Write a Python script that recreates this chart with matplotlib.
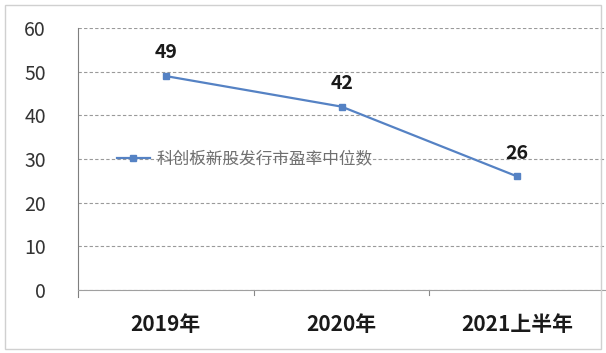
import matplotlib
matplotlib.use("Agg")
import matplotlib.pyplot as plt
from matplotlib.patches import Rectangle

plt.rcParams['font.family'] = ['Noto Sans CJK SC', 'DejaVu Sans']

# --- Data ---
categories = ["2019年", "2020年", "2021上半年"]
pe_median = [49, 42, 26]
series_name = "科创板新股发行市盈率中位数"
y_ticks = [0, 10, 20, 30, 40, 50, 60]

LINE_COLOR = "#5582c4"

fig = plt.figure(figsize=(6.06, 3.53), dpi=100)
ax = fig.add_axes([0.1287, 0.1785, 0.87, 0.742])

x = list(range(len(categories)))
ax.plot(x, pe_median, color=LINE_COLOR, lw=1.6, marker="s", ms=4.5,
        label=series_name, zorder=3)

for xi, v in zip(x, pe_median):
    ax.annotate(str(v), (xi, v), xytext=(0, 10), textcoords="offset points",
                ha="center", va="bottom", fontsize=14, fontweight="bold",
                color="#1a1a1a")

ax.set_xlim(-0.5, 2.5)
ax.set_ylim(0, 60)
ax.set_yticks(y_ticks)
ax.set_yticklabels([str(t) for t in y_ticks], fontsize=14, color="#333333")
ax.set_xticks(x)
ax.set_xticklabels(categories, fontsize=15, fontweight="bold", color="#1a1a1a")
ax.tick_params(axis="y", length=0, pad=23)
ax.tick_params(axis="x", length=0, pad=17)

# category boundary ticks on the x axis
for b in [0.5, 1.5]:
    ax.plot([b, b], [0, -1.2], color="#888888", lw=0.8, clip_on=False)

ax.yaxis.grid(True, ls=(0, (3, 2)), color="#9a9a9a", lw=0.8)
ax.set_axisbelow(True)
for side in ["top", "right"]:
    ax.spines[side].set_visible(False)
ax.spines["left"].set_color("#7f7f7f")
ax.spines["bottom"].set_color("#a0a0a0")
ax.spines["left"].set_bounds(-1.5, 60)

leg = ax.legend(loc="center left", bbox_to_anchor=(0.045, 0.5), frameon=False,
                fontsize=12, handlelength=2.0, handletextpad=0.4,
                labelcolor="#707070")

# outer chart border
fig.patches.append(Rectangle((0.008, 0.012), 0.984, 0.975, transform=fig.transFigure,
                             fill=False, ec="#d0d0d0", lw=1.0))

fig.savefig("out.png", dpi=100)
